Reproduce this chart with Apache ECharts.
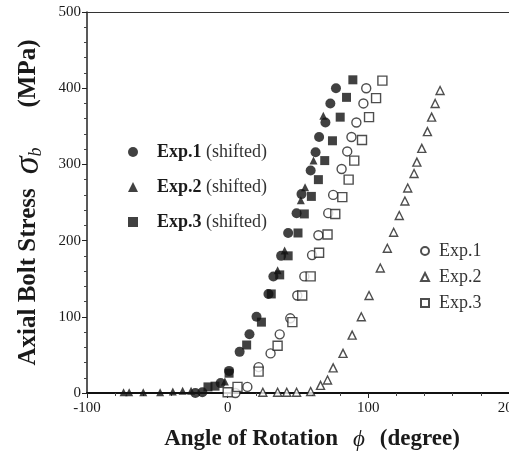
<!DOCTYPE html>
<html>
<head>
<meta charset="utf-8">
<script src="https://cdn.jsdelivr.net/npm/echarts@6/dist/echarts.min.js"></script>
<style>
  html, body { margin: 0; padding: 0; background: #fff; }
  #chart { width: 518px; height: 451px; }
</style>
</head>
<body>
<div id="chart"></div>
<script>
// [angle (degree), stress (MPa)]
var exp1Shifted = [[-23,0],[-18,1],[-5,13],[1,29],[8.5,54],[15.5,77],[20.5,100],[29,130],[32.5,153],[38,180],[43,210],[49,236],[52.5,261],[59,292],[62.5,316],[65,336],[69.5,355],[73,380],[77,400]];
var exp2Shifted = [[-74,1],[-70,1],[-60,1],[-48,1],[-39,2],[-32,3],[-26,3],[-2,15],[35.5,161],[40.5,187],[52,253],[55,270],[61,305],[68,364]];
var exp3Shifted = [[-14,8],[-9,9],[1,26],[13.5,63],[24,93],[31,130],[37,155],[43,180],[50,210],[54.5,235],[59.5,258],[64.5,280],[69,305],[74.5,331],[80,362],[84.5,388],[89,411]];
var exp1 = [[5.5,0],[14,8],[22,34],[30.5,52],[37,77],[44.5,98],[49.5,128],[54.5,153],[60,181],[64.5,207],[71.5,236],[75,260],[81,294],[85,317],[88,336],[91.5,355],[96.5,380],[98.5,400]];
var exp2 = [[25,1],[35.5,1],[42,1],[49,1],[59,2],[66,10],[71,17],[75,33],[82,52],[88.5,76],[95,100],[100.5,128],[108.5,164],[113.5,190],[118,211],[122,233],[126,252],[128,269],[132.5,288],[134.5,303],[138,321],[142,343],[145,362],[147.5,380],[151,397]];
var exp3 = [[0,1],[7,8],[22,28],[35.5,62],[46,93],[53,128],[59,153],[65,184],[71,208],[76.5,235],[81.5,257],[86,280],[90,305],[95.5,332],[100.5,362],[105.5,387],[110,410]];

var xTicks = [-100, 0, 100, 200];
var yTicks = [0, 100, 200, 300, 400, 500];

var serif = "'Liberation Serif', 'DejaVu Serif', serif";
var ink = '#1a1a1a';

var myChart = echarts.init(document.getElementById('chart'));

function openItem() {
  return { color: '#fff', borderColor: '#222', borderWidth: 1.4 };
}

var option = {
  animation: false,
  backgroundColor: '#fff',
  grid: { left: 87, right: 9, top: 12, bottom: 58, outerBoundsMode: 'none' },
  legend: [
    {
      orient: 'vertical',
      left: 123,
      top: 137,
      itemWidth: 10,
      itemHeight: 10,
      itemGap: 15,
      selectedMode: false,
      data: ['Exp.1 (shifted)', 'Exp.2 (shifted)', 'Exp.3 (shifted)'],
      formatter: function (name) {
        var p = name.split(' ');
        return '{sp|}{b|' + p[0] + '} {n|' + p[1] + '}';
      },
      textStyle: {
        color: ink,
        fontFamily: serif,
        fontSize: 18,
        lineHeight: 20,
        rich: {
          sp: { width: 14 },
          b: { fontWeight: 'bold', fontSize: 18, fontFamily: serif, color: ink },
          n: { fontSize: 18, fontFamily: serif, color: '#333' }
        }
      }
    },
    {
      orient: 'vertical',
      left: 415,
      top: 236,
      itemWidth: 8,
      itemHeight: 8,
      itemGap: 6,
      selectedMode: false,
      data: ['Exp.1', 'Exp.2', 'Exp.3'],
      formatter: '{sp|}{a|{name}}',
      textStyle: {
        color: '#333',
        fontFamily: serif,
        fontSize: 18,
        lineHeight: 20,
        rich: {
          sp: { width: 5 },
          a: { fontSize: 18, fontFamily: serif, color: '#333' }
        }
      }
    }
  ],
  xAxis: [
    {
      type: 'value',
      min: xTicks[0],
      max: xTicks[xTicks.length - 1],
      interval: 100,
      name: '{lead|}{t|Angle of Rotation}{g|}{i|ϕ}{g|}{t|(degree)}',
      nameLocation: 'middle',
      nameGap: 35,
      nameTextStyle: {
        rich: {
          t: { fontFamily: serif, fontWeight: 'bold', fontSize: 23, color: ink },
          i: { fontFamily: serif, fontStyle: 'italic', fontSize: 23, color: ink },
          g: { width: 15 },
          lead: { width: 28 }
        }
      },
      axisLine: { onZero: false, lineStyle: { color: '#111', width: 2 } },
      axisTick: { show: true, inside: false, length: 5, lineStyle: { color: '#222' } },
      minorTick: { show: true, splitNumber: 5, length: 3, lineStyle: { color: '#444' } },
      splitLine: { show: false },
      axisLabel: { fontFamily: serif, fontSize: 15, color: ink, margin: 8 }
    },
    {
      type: 'value',
      position: 'top',
      min: xTicks[0],
      max: xTicks[xTicks.length - 1],
      axisLine: { show: true, onZero: false, lineStyle: { color: '#333', width: 1.2 } },
      axisTick: { show: false },
      axisLabel: { show: false },
      splitLine: { show: false }
    }
  ],
  yAxis: {
    type: 'value',
    min: yTicks[0],
    max: yTicks[yTicks.length - 1],
    interval: 100,
    name: '{t|Axial Bolt Stress}{g1|}{s|σ}{sub|b}{g2|}{t|(MPa)}',
    nameLocation: 'middle',
    nameRotate: 90,
    nameGap: 42,
    nameTextStyle: {
      rich: {
        t: { fontFamily: serif, fontWeight: 'bold', fontSize: 25, color: ink },
        s: { fontFamily: serif, fontStyle: 'italic', fontSize: 36, color: ink, lineHeight: 32 },
        sub: { fontFamily: serif, fontStyle: 'italic', fontSize: 18, color: ink, verticalAlign: 'bottom', lineHeight: 12 },
        g1: { width: 14 },
        g2: { width: 40 }
      }
    },
    axisLine: { show: true, onZero: false, lineStyle: { color: '#222', width: 1.5 } },
    axisTick: { show: true, inside: false, length: 5, lineStyle: { color: '#222' } },
    minorTick: { show: true, splitNumber: 5, length: 3, lineStyle: { color: '#444' } },
    splitLine: { show: false },
    axisLabel: { fontFamily: serif, fontSize: 15, color: ink, margin: 6 }
  },
  series: [
    { name: 'Exp.1', type: 'scatter', symbol: 'circle', symbolSize: 9, itemStyle: openItem(), data: exp1 },
    { name: 'Exp.2', type: 'scatter', symbol: 'triangle', symbolSize: 8, itemStyle: openItem(), data: exp2 },
    { name: 'Exp.3', type: 'scatter', symbol: 'rect', symbolSize: 9, itemStyle: openItem(), data: exp3 },
    { name: 'Exp.2 (shifted)', type: 'scatter', symbol: 'triangle', symbolSize: 8, itemStyle: { color: '#111' }, data: exp2Shifted },
    { name: 'Exp.3 (shifted)', type: 'scatter', symbol: 'rect', symbolSize: 9, itemStyle: { color: '#111' }, data: exp3Shifted },
    { name: 'Exp.1 (shifted)', type: 'scatter', symbol: 'circle', symbolSize: 10, itemStyle: { color: '#111' }, data: exp1Shifted }
  ],
  graphic: [
    // the original figure is cut off on the right edge
    { type: 'rect', right: 0, top: 0, z: 100, shape: { width: 9, height: 451 }, style: { fill: '#fff' } }
  ]
};

myChart.setOption(option);
</script>
</body>
</html>
